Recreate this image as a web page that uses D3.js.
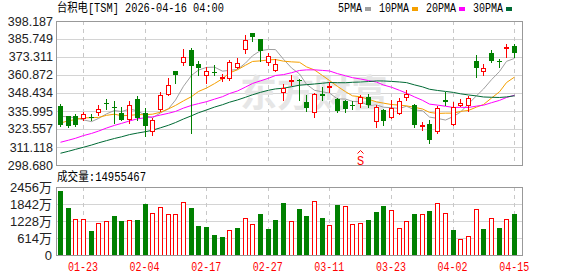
<!DOCTYPE html>
<html>
<head>
<meta charset="utf-8">
<script src="https://cdn.jsdelivr.net/npm/d3@7"></script>
<style>
  body { margin: 0; background: #fff; }
  svg text { font-family: "Liberation Sans", Arial, sans-serif; }
  .mono { font-family: "Liberation Mono", "Noto Sans CJK SC", monospace; }
</style>
</head>
<body>
<svg id="chart" width="578" height="276"></svg>
<script>
// trading days shown (MM-DD)
const dates = ['01-20','01-21','01-22','01-23','01-26','01-27','01-28','01-29','01-30','02-02',
  '02-03','02-04','02-05','02-06','02-09','02-10','02-11','02-12','02-13','02-17',
  '02-18','02-19','02-20','02-23','02-24','02-25','02-26','02-27','03-02','03-03',
  '03-04','03-05','03-06','03-09','03-10','03-11','03-12','03-13','03-16','03-17',
  '03-18','03-19','03-20','03-23','03-24','03-25','03-26','03-27','03-30','03-31',
  '04-01','04-02','04-06','04-07','04-08','04-09','04-10','04-13','04-14','04-15'];

const opens = [339.7,332.3,332.3,331.4,331.9,335.5,341.7,338.8,334.6,330.5,
  344.5,334.6,322.0,337.4,347.7,363.8,369.6,377.9,368.5,361.1,
  363.2,358.6,358.8,366.6,379.0,389.7,386.0,369.6,364.5,349.1,
  356.5,357.1,342.2,335.3,347.7,352.6,344.5,342.7,340.1,341.5,
  345.5,328.9,336.7,331.6,334.6,345.9,339.9,325.3,327.0,322.4,
  343.8,327.0,339.9,339.9,370.8,363.8,376.1,370.3,379.5,381.1];
const highs = [341.0,332.7,333.9,335.5,333.7,339.9,344.3,342.7,338.6,342.7,
  346.4,338.1,331.2,349.1,358.8,363.8,378.8,379.5,370.8,366.2,
  368.0,361.6,371.4,372.6,388.3,389.7,386.0,376.1,372.1,354.9,
  360.7,357.8,347.3,348.4,352.6,356.0,345.0,343.8,342.7,346.8,
  347.7,339.9,337.4,343.8,345.0,350.5,340.8,328.4,330.0,339.2,
  349.1,342.2,344.3,346.2,374.9,368.5,378.4,372.1,382.3,382.3];
const lows = [325.4,324.7,325.8,330.0,329.6,333.4,337.6,327.7,329.6,327.9,
  329.6,318.5,319.2,335.8,346.8,355.3,368.0,320.8,360.7,355.3,
  360.7,356.5,357.6,365.7,376.1,384.6,370.3,368.0,363.4,343.4,
  354.2,343.8,336.2,331.6,343.6,349.1,335.3,335.3,337.6,338.6,
  338.6,324.9,326.1,331.2,333.9,343.8,324.9,322.7,313.9,320.8,
  339.9,326.5,339.2,335.8,359.3,361.1,369.9,366.2,373.1,373.1];
const closes = [326.5,325.4,326.5,333.7,331.2,337.4,341.3,338.1,330.0,339.9,
  331.2,325.4,329.8,347.3,354.2,361.1,373.1,367.3,365.7,363.4,
  362.0,359.3,369.9,369.0,385.3,387.3,377.2,373.8,368.5,351.9,
  357.4,356.4,338.1,347.7,346.6,353.1,336.2,337.6,339.7,345.5,
  339.9,338.6,329.3,338.1,342.7,347.7,326.1,326.3,316.2,338.1,
  342.0,338.6,341.3,345.0,365.7,365.4,370.8,369.6,380.0,375.9];
// volume in 万 shares
const volumes = [2311,1685,1288,1290,866,1144,1216,1408,1227,1263,
  1263,1841,1516,1721,1480,1480,1902,1697,1047,1011,
  722,650,902,975,1325,1119,1480,939,1263,1877,
  1227,1661,1408,1938,1336,1071,1805,1757,1107,1155,
  1263,1552,1769,1613,963,1216,1480,1469,1588,1866,
  1516,902,567,675,1650,939,1325,975,1288,1496];
// closes before the window, needed for the moving averages
const priorCloses = [284,287,290,286,292,295,293,296,294,299,
  297,300,296,302,305,299,301,303,306,302,
  310,318,322,330,335.5,327,330,341,337];

const priceTicks = [298.680, 311.118, 323.557, 335.995, 348.434, 360.872, 373.311, 385.749, 398.187];
const volTicks = [0, 614, 1228, 1842, 2456];
const tickDates = ['01-23','02-04','02-17','02-27','03-11','03-23','04-02','04-15'];
const maPeriods = [5, 10, 20, 30];
const maNames = ['5PMA', '10PMA', '20PMA', '30PMA'];
const maColors = ['#a0a0a0', '#f5a000', '#ff00ff', '#006a35'];
const signalDate = '03-17';
const titleText = '台积电[TSM] 2026-04-16 04:00';
const volTitle = '成交量:14955467';

const RED = '#ff0000', GREEN = '#008000';

const svg = d3.select('#chart');
const left = 56, right = 522, bandRight = 518;
const pTop = 21, pBot = 165, vTop = 187, vBot = 255;

const x = d3.scaleBand().domain(dates).range([left, bandRight]);
const cx = d => Math.round(x(d) + x.bandwidth() / 2);
const y = d3.scaleLinear().domain([priceTicks[0], priceTicks[priceTicks.length - 1]]).range([pBot, pTop]);
const yv = d3.scaleLinear().domain([0, volTicks[volTicks.length - 1]]).range([vBot, vTop]);

// grid
const grid = svg.append('g').attr('shape-rendering', 'crispEdges');
grid.selectAll('.hp').data(priceTicks.slice(1, -1)).enter().append('line')
  .attr('x1', left).attr('x2', right)
  .attr('y1', d => Math.round(y(d)) + 0.5).attr('y2', d => Math.round(y(d)) + 0.5)
  .attr('stroke', '#d4d4d4');
grid.selectAll('.hv').data(volTicks.slice(1, -1)).enter().append('line')
  .attr('x1', left).attr('x2', right)
  .attr('y1', d => Math.round(yv(d)) + 0.5).attr('y2', d => Math.round(yv(d)) + 0.5)
  .attr('stroke', '#d4d4d4');
[[pTop, pBot], [vTop, vBot]].forEach(([a, b]) => {
  grid.selectAll(null).data(tickDates).enter().append('line')
    .attr('x1', d => cx(d) + 0.5).attr('x2', d => cx(d) + 0.5)
    .attr('y1', a).attr('y2', b)
    .attr('stroke', '#c8c8c8').attr('stroke-dasharray', '4,4');
});

// watermark
svg.append('text')
  .attr('x', 240).attr('y', 107)
  .style('font-family', '"Noto Sans CJK SC", sans-serif')
  .style('font-size', '37px').style('font-weight', 'bold')
  .attr('fill', '#e6e6e6')
  .text('东方财富');

// moving averages
const allCloses = priorCloses.concat(closes);
const off = priorCloses.length;
maPeriods.forEach((n, k) => {
  const vals = dates.map((d, i) => {
    const j = i + off;
    return d3.mean(allCloses.slice(j - n + 1, j + 1));
  });
  const line = d3.line()
    .x((v, i) => cx(dates[i]) + 0.5)
    .y(v => y(v));
  svg.append('path').datum(vals)
    .attr('d', line).attr('fill', 'none')
    .attr('stroke', maColors[k]).attr('stroke-width', 1);
});

// candles
const candles = svg.append('g').attr('shape-rendering', 'crispEdges');
dates.forEach((d, i) => {
  const o = opens[i], c = closes[i], up = c >= o;
  const col = up ? RED : GREEN;
  const xc = cx(d);
  const yTop = Math.round(y(Math.max(o, c))), yBottom = Math.round(y(Math.min(o, c)));
  candles.append('line')
    .attr('x1', xc + 0.5).attr('x2', xc + 0.5)
    .attr('y1', Math.round(y(highs[i]))).attr('y2', Math.round(y(lows[i])) + 1)
    .attr('stroke', col);
  if (up) {
    candles.append('rect')
      .attr('x', xc - 1.5).attr('y', yTop + 0.5)
      .attr('width', 4).attr('height', Math.max(1, yBottom - yTop))
      .attr('fill', '#fff').attr('stroke', col);
  } else {
    candles.append('rect')
      .attr('x', xc - 2).attr('y', yTop)
      .attr('width', 5).attr('height', Math.max(1, yBottom - yTop))
      .attr('fill', col);
  }
});

// volume bars, coloured by close vs previous close
const vols = svg.append('g').attr('shape-rendering', 'crispEdges');
dates.forEach((d, i) => {
  const up = i === 0 ? closes[i] >= opens[i] : closes[i] >= closes[i - 1];
  const xc = cx(d);
  const yt = Math.round(yv(volumes[i]));
  if (up) {
    vols.append('rect')
      .attr('x', xc - 1.5).attr('y', yt + 0.5)
      .attr('width', 4).attr('height', vBot - yt)
      .attr('fill', '#fff').attr('stroke', RED);
  } else {
    vols.append('rect')
      .attr('x', xc - 2).attr('y', yt)
      .attr('width', 5).attr('height', vBot - yt + 1)
      .attr('fill', GREEN);
  }
});

// sell signal marker
const sx = cx(signalDate);
svg.append('path')
  .attr('d', `M${sx - 2.5},${pBot - 11.5} L${sx + 0.5},${pBot - 14.5} L${sx + 3.5},${pBot - 11.5}`)
  .attr('fill', 'none').attr('stroke', RED);
svg.append('text').attr('class', 'mono')
  .attr('x', sx + 0.5).attr('y', pBot)
  .attr('text-anchor', 'middle')
  .style('font-size', '12px').attr('fill', RED)
  .text('S');

// panel borders
svg.append('rect').attr('x', left + 0.5).attr('y', pTop + 0.5)
  .attr('width', right - left).attr('height', pBot - pTop)
  .attr('fill', 'none').attr('stroke', '#999');
svg.append('rect').attr('x', left + 0.5).attr('y', vTop + 0.5)
  .attr('width', right - left).attr('height', vBot - vTop)
  .attr('fill', 'none').attr('stroke', '#999');

// axes
const yAxis = svg.append('g')
  .attr('transform', `translate(${left},0)`)
  .call(d3.axisLeft(y).tickValues(priceTicks).tickFormat(d3.format('.3f')).tickSize(0).tickPadding(3));
yAxis.select('.domain').remove();
yAxis.selectAll('text').style('font-size', '12.5px').attr('fill', '#222');

const vAxis = svg.append('g')
  .attr('transform', `translate(${left},0)`)
  .call(d3.axisLeft(yv).tickValues(volTicks).tickFormat(d => d === 0 ? '0' : d + '万').tickSize(0).tickPadding(4));
vAxis.select('.domain').remove();
vAxis.selectAll('text').style('font-size', '13px').attr('fill', '#222')
  .style('font-family', '"Liberation Sans", "Noto Sans CJK SC", sans-serif');

const xAxis = svg.append('g')
  .attr('transform', `translate(0,${vBot})`)
  .call(d3.axisBottom(x).tickValues(tickDates).tickSize(0).tickPadding(7));
xAxis.select('.domain').remove();
xAxis.selectAll('text').attr('class', 'mono')
  .style('font-size', '12px').attr('fill', RED)
  .attr('textLength', 30).attr('lengthAdjust', 'spacingAndGlyphs');

// title and legend
svg.append('text').attr('class', 'mono')
  .attr('x', 57).attr('y', 12)
  .style('font-size', '12px').attr('fill', '#000')
  .attr('textLength', 167).attr('lengthAdjust', 'spacingAndGlyphs')
  .text(titleText);

svg.append('text').attr('class', 'mono')
  .attr('x', 57).attr('y', 181)
  .style('font-size', '12px').attr('fill', '#000')
  .attr('textLength', 89).attr('lengthAdjust', 'spacingAndGlyphs')
  .text(volTitle);

let lx = 338;
maNames.forEach((n, k) => {
  const w = n.length * 6;
  svg.append('text').attr('class', 'mono')
    .attr('x', lx).attr('y', 12)
    .style('font-size', '12px').attr('fill', '#000')
    .attr('textLength', w).attr('lengthAdjust', 'spacingAndGlyphs')
    .text(n);
  svg.append('rect')
    .attr('x', lx + w + 3).attr('y', 7)
    .attr('width', 6).attr('height', 4)
    .attr('fill', maColors[k]);
  lx += w + 17;
});
</script>
</body>
</html>
